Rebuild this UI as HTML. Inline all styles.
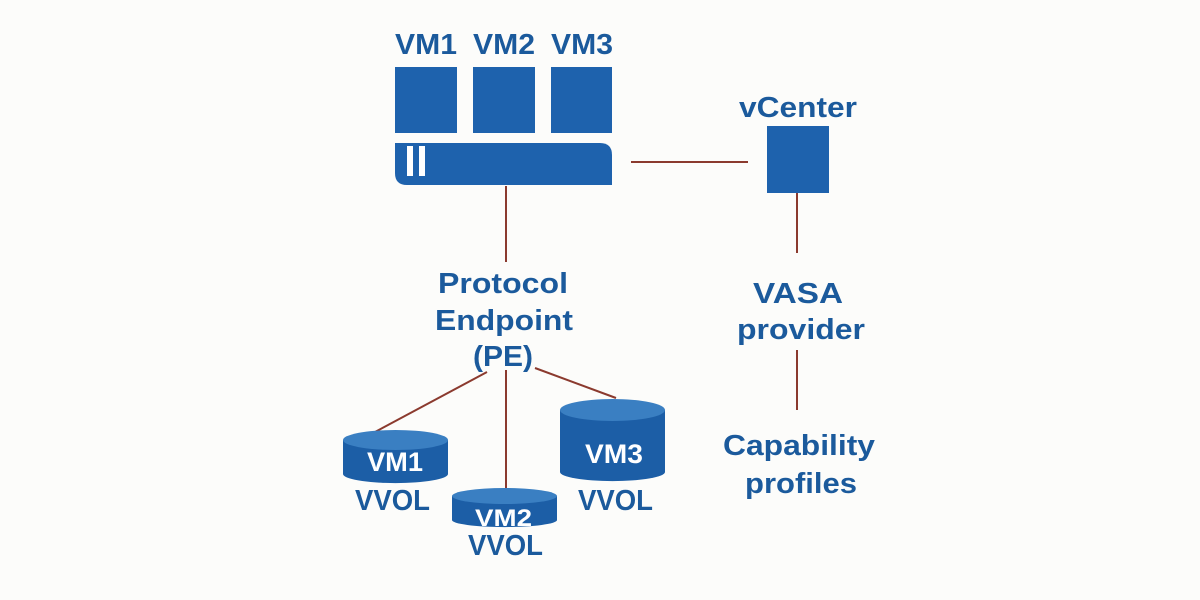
<!DOCTYPE html>
<html><head><style>
body{margin:0;background:#fcfcfa;}
svg{display:block}
text{font-family:"Liberation Sans",sans-serif;font-weight:bold;}
</style></head><body>
<svg width="1200" height="600" viewBox="0 0 1200 600">
<rect width="1200" height="600" fill="#fcfcfa"/>
<g fill="#1b5a9c" font-size="29">
<text x="395" y="54" textLength="62" lengthAdjust="spacingAndGlyphs">VM1</text>
<text x="473" y="54" textLength="62" lengthAdjust="spacingAndGlyphs">VM2</text>
<text x="551" y="54" textLength="62" lengthAdjust="spacingAndGlyphs">VM3</text>
<text x="739" y="117" textLength="118" lengthAdjust="spacingAndGlyphs">vCenter</text>
<text x="438" y="293" textLength="130" lengthAdjust="spacingAndGlyphs">Protocol</text>
<text x="435" y="330" textLength="138" lengthAdjust="spacingAndGlyphs">Endpoint</text>
<text x="473" y="366" textLength="60" lengthAdjust="spacingAndGlyphs">(PE)</text>
<text x="753" y="303" textLength="90" lengthAdjust="spacingAndGlyphs">VASA</text>
<text x="737" y="339" textLength="128" lengthAdjust="spacingAndGlyphs">provider</text>
<text x="723" y="455" textLength="152" lengthAdjust="spacingAndGlyphs">Capability</text>
<text x="745" y="493" textLength="112" lengthAdjust="spacingAndGlyphs">profiles</text>
<text x="355" y="510" textLength="75" lengthAdjust="spacingAndGlyphs">VVOL</text>
<text x="578" y="510" textLength="75" lengthAdjust="spacingAndGlyphs">VVOL</text>
<text x="468" y="555" textLength="75" lengthAdjust="spacingAndGlyphs">VVOL</text>
</g>
<g fill="#1e62ad">
<rect x="395" y="67" width="62" height="66"/>
<rect x="473" y="67" width="62" height="66"/>
<rect x="551" y="67" width="61" height="66"/>
<path d="M395 143 H600 Q612 143 612 155 V185 H407 Q395 185 395 173 Z"/>
<rect x="767" y="126" width="62" height="67"/>
</g>
<rect x="407" y="146" width="6" height="30" fill="#fff"/>
<rect x="419" y="146" width="6" height="30" fill="#fff"/>
<g stroke="#8b3a2e" stroke-width="2" fill="none">
<line x1="631" y1="162" x2="748" y2="162"/>
<line x1="506" y1="186" x2="506" y2="262"/>
<line x1="797" y1="193" x2="797" y2="253"/>
<line x1="797" y1="350" x2="797" y2="410"/>
<line x1="487" y1="372" x2="375" y2="432"/>
<line x1="506" y1="370" x2="506" y2="490"/>
<line x1="535" y1="368" x2="616" y2="398"/>
</g>
<g>
<path d="M343 440 V474 A52 9 0 0 0 448 474 V440 Z" fill="#1c5ea6"/>
<ellipse cx="395.5" cy="440" rx="52.5" ry="10" fill="#3a7fc2"/>
<path d="M560 410 V472 A52 9 0 0 0 665 472 V410 Z" fill="#1c5ea6"/>
<ellipse cx="612.5" cy="410" rx="52.5" ry="11" fill="#3a7fc2"/>
<path d="M452 496 V520 A52 7 0 0 0 557 520 V496 Z" fill="#1c5ea6"/>
<ellipse cx="504.5" cy="496" rx="52.5" ry="8" fill="#3a7fc2"/>
</g>
<g fill="#fff" font-size="27">
<text x="367" y="471" textLength="56" lengthAdjust="spacingAndGlyphs">VM1</text>
<text x="585" y="463" textLength="58" lengthAdjust="spacingAndGlyphs">VM3</text>
<text x="475" y="526" textLength="57" lengthAdjust="spacingAndGlyphs" font-size="24">VM2</text>
</g>
</svg>
</body></html>
